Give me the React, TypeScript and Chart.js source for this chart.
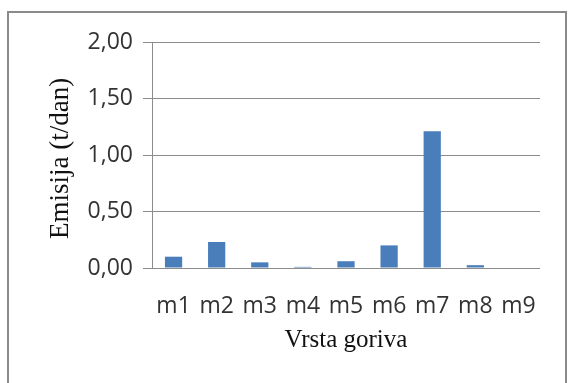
import React, { useEffect, useRef } from "react";
import { Chart, registerables } from "chart.js";

Chart.register(...registerables);

const categories = ["m1", "m2", "m3", "m4", "m5", "m6", "m7", "m8", "m9"];
const emissions = [0.1, 0.23, 0.05, 0.01, 0.06, 0.2, 1.21, 0.025, 0];
const yTitle = "Emisija (t/dan) ";
const xTitle = "Vrsta goriva";

const frame = {
  id: "frame",
  beforeDraw(chart: any) {
    const ctx = chart.ctx;
    ctx.save();
    ctx.fillStyle = "#ffffff";
    ctx.fillRect(0, 0, chart.width, chart.height);
    ctx.strokeStyle = "#8a8a8a";
    ctx.lineWidth = 2;
    ctx.strokeRect(8, 12, 558, 380);
    ctx.restore();
  },
};

export default function App() {
  const ref = useRef<HTMLCanvasElement>(null);
  useEffect(() => {
    const chart = new Chart(ref.current!, {
      type: "bar",
      data: {
        labels: categories,
        datasets: [
          {
            data: emissions,
            backgroundColor: "#4a7ebb",
            barPercentage: 0.4,
            categoryPercentage: 1,
          },
        ],
      },
      options: {
        animation: false,
        responsive: false,
        layout: { padding: { left: 45, right: 28, top: 42, bottom: 28 } },
        plugins: { legend: { display: false }, tooltip: { enabled: false } },
        scales: {
          x: {
            grid: { display: false },
            border: { display: false },
            ticks: {
              padding: 17,
              color: "#333333",
              font: { family: "Open Sans", size: 23 },
            },
            title: {
              display: true,
              text: xTitle,
              color: "#111111",
              padding: 0,
              font: { family: "Liberation Serif", size: 25, lineHeight: 1.2 },
            },
            afterFit: (s: any) => {
              s.height = 87;
            },
          },
          y: {
            min: 0,
            max: 2,
            ticks: {
              stepSize: 0.5,
              padding: 10,
              color: "#333333",
              font: { family: "Open Sans", size: 23 },
              callback: (v: any) => Number(v).toFixed(2).replace(".", ","),
            },
            grid: { color: "#8c8c8c", tickLength: 9, lineWidth: 1 },
            border: { display: true, color: "#8c8c8c" },
            title: {
              display: true,
              text: yTitle,
              color: "#111111",
              padding: 0,
              font: { family: "Liberation Serif", size: 27, lineHeight: 1.2 },
            },
            afterFit: (s: any) => {
              s.width = 107;
            },
          },
        },
      },
      plugins: [frame],
    });
    return () => chart.destroy();
  }, []);
  return (
    <div style={{ position: "fixed", left: 0, top: 0, width: 568, height: 383 }}>
      <canvas ref={ref} width={568} height={383} />
    </div>
  );
}
